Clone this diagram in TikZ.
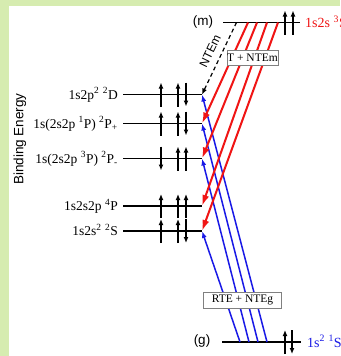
\documentclass[tikz,border=0pt]{standalone}
\usepackage{fontspec}
\setmainfont{Liberation Serif}
\newfontfamily\arialfont{Liberation Sans}
\usetikzlibrary{arrows.meta}
\definecolor{framegreen}{RGB}{214,236,176}
\definecolor{redline}{RGB}{240,20,20}
\definecolor{blueline}{RGB}{25,25,230}

\begin{document}
\begin{tikzpicture}[x=1pt,y=-1pt,
  level/.style={line width=1.8pt},
  el/.style={line width=1.5pt,-{Latex[length=6pt,width=5pt]}},
  redarr/.style={redline,line width=2pt,-{Latex[length=11pt,width=7pt]}},
  bluearr/.style={blueline,line width=1.5pt,-{Latex[length=7pt,width=5pt]}},
  ntearr/.style={line width=1.2pt,dash pattern=on 4pt off 3pt,-{Latex[length=6pt,width=5pt]}},
  lvllbl/.style={font=\fontsize{13.5}{15}\selectfont,anchor=base east,inner sep=0pt},
  sidelbl/.style={font=\fontsize{14}{16}\selectfont,anchor=base west,inner sep=0pt},
  sanslbl/.style={font=\arialfont\fontsize{13.5}{15}\selectfont,inner sep=0pt},
  procbox/.style={draw=gray,line width=0.9pt,fill=white,font=\fontsize{11.5}{13}\selectfont,
    inner sep=0pt,minimum height=15pt},
]
\def\h{12}
\clip (0,0) rectangle (340,356);
\fill[white] (0,0) rectangle (340,356);

% ----- frame -----
\fill[framegreen] (0,0) rectangle (8.5,356);
\fill[framegreen] (0,0) rectangle (340,6);
\node[sanslbl,rotate=90] (be) at (20,139) {Binding Energy};

% ----- intermediate levels -----
\coordinate (D0) at (123,94.5);   \coordinate (D) at (202,94.5);
\coordinate (Pp0) at (123,123.5); \coordinate (Pp) at (202,123.5);
\coordinate (Pm0) at (123,158.5); \coordinate (Pm) at (202,158.5);
\coordinate (Q0) at (123,206);    \coordinate (Q) at (202,206);
\coordinate (S0) at (123,231);    \coordinate (S) at (202,231);
\draw[level] (D0) -- (D);
\draw[level] (Pp0) -- (Pp);
\draw[level] (Pm0) -- (Pm);
\draw[level] (Q0) -- (Q);
\draw[level] (S0) -- (S);
\node[lvllbl] (lD) at (118,99) {1s2p\textsuperscript{2} \textsuperscript{2}D};
\node[lvllbl] (lPp) at (118,128) {1s(2s2p \textsuperscript{1}P) \textsuperscript{2}P\textsubscript{+}};
\node[lvllbl] (lPm) at (118,163) {1s(2s2p \textsuperscript{3}P) \textsuperscript{2}P\textsubscript{-}};
\node[lvllbl] (lQ) at (118,210.5) {1s2s2p \textsuperscript{4}P};
\node[lvllbl] (lS) at (118,235.5) {1s2s\textsuperscript{2} \textsuperscript{2}S};

% electrons
\draw[el] (161,94.5) ++(0,\h) -- ++(0,-2*\h);  \draw[el] (178,94.5) ++(0,\h) -- ++(0,-2*\h);  \draw[el] (186,94.5) ++(0,-\h) -- ++(0,2*\h);
\draw[el] (161,123.5) ++(0,\h) -- ++(0,-2*\h); \draw[el] (178,123.5) ++(0,\h) -- ++(0,-2*\h); \draw[el] (186,123.5) ++(0,-\h) -- ++(0,2*\h);
\draw[el] (161,158.5) ++(0,-\h) -- ++(0,2*\h); \draw[el] (178,158.5) ++(0,\h) -- ++(0,-2*\h); \draw[el] (186,158.5) ++(0,\h) -- ++(0,-2*\h);
\draw[el] (161,206) ++(0,\h) -- ++(0,-2*\h);   \draw[el] (178,206) ++(0,\h) -- ++(0,-2*\h);   \draw[el] (186,206) ++(0,\h) -- ++(0,-2*\h);
\draw[el] (161,231) ++(0,\h) -- ++(0,-2*\h);   \draw[el] (178,231) ++(0,\h) -- ++(0,-2*\h);   \draw[el] (186,231) ++(0,-\h) -- ++(0,2*\h);

% ----- (m) level -----
\coordinate (M0) at (223,22.5); \coordinate (M1) at (300,22.5);
\draw[level] (M0) -- (M1);
\node[sanslbl] (mlbl) at (203,22.5) {(m)};
\node[sidelbl,text=redline] (mname) at (305,27.5) {1s2s \textsuperscript{3}S};
\draw[el] (285,22.5) ++(0,\h) -- ++(0,-2*\h);
\draw[el] (293,22.5) ++(0,\h) -- ++(0,-2*\h);

% ----- (g) level -----
\coordinate (G0) at (222,342); \coordinate (G1) at (301,342);
\draw[level] (G0) -- (G1);
\node[sanslbl] (glbl) at (202,341) {(g)};
\node[sidelbl,text=blueline] (gname) at (307,347) {1s\textsuperscript{2} \textsuperscript{1}S};
\draw[el] (285,342) ++(0,\h) -- ++(0,-2*\h);
\draw[el] (292,342) ++(0,-\h) -- ++(0,2*\h);

% ----- transitions -----
\coordinate (b1) at (240,342); \coordinate (b2) at (249,342);
\coordinate (b3) at (258,342); \coordinate (b4) at (267,342);
\draw[bluearr] (b1) -- (S);
\draw[bluearr] (b2) -- (Pm);
\draw[bluearr] (b3) -- (Pp);
\draw[bluearr] (b4) -- (D);

\coordinate (r1) at (248,22.5); \coordinate (r2) at (257,22.5);
\coordinate (r3) at (267,22.5); \coordinate (r4) at (278,22.5);
\draw[redarr] (r1) -- (Pp);
\draw[redarr] (r2) -- (Pm);
\draw[redarr] (r3) -- (Q);
\draw[redarr] (r4) -- (S);

\coordinate (n0) at (236.5,22.5);
\draw[ntearr] (n0) -- (D);
\node[sanslbl,font=\arialfont\fontsize{12}{14}\selectfont,rotate=64] (ntem) at (210,51) {NTEm};

% ----- boxes -----
\node[procbox,minimum width=51pt] (tbox) at (252.5,57.5) {T + NTEm};
\node[procbox,minimum width=78pt,minimum height=16pt] (rbox) at (242.5,300.3) {RTE + NTEg};

\end{tikzpicture}
\end{document}
